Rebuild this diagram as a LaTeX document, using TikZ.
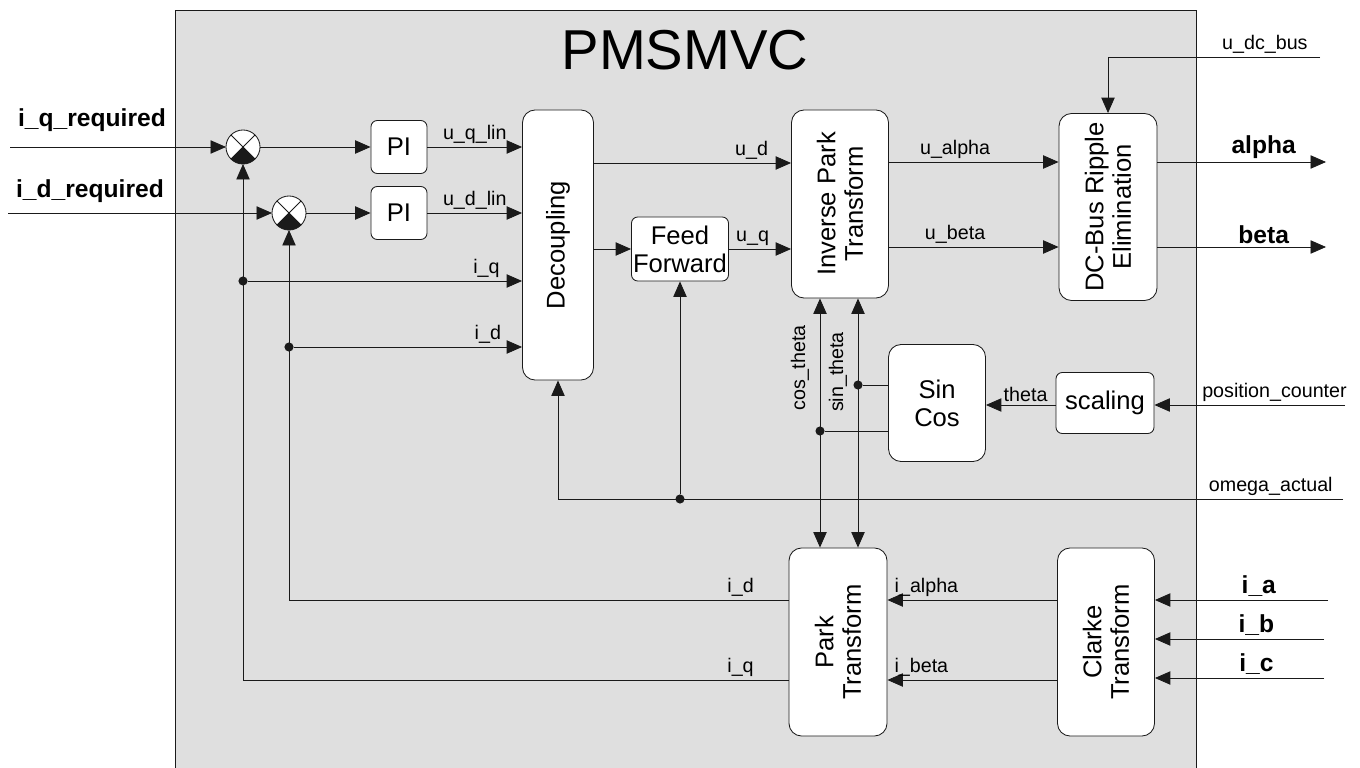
\documentclass[tikz,border=0pt]{standalone}
\usepackage{fontspec}
\setmainfont{Liberation Sans}
\usetikzlibrary{arrows.meta,positioning,calc}
\definecolor{panelgray}{HTML}{DFDFDF}
\definecolor{wire}{HTML}{1A1A1A}

\tikzset{
  blk/.style={draw=wire, fill=white, rounded corners=9pt, line width=0.6pt,
    inner sep=0pt, align=center, font=\fontsize{18.2}{20}\selectfont},
  smallblk/.style={rounded corners=4.5pt},
  vtext/.style={rotate=90, align=center, inner sep=0pt,
    font=\fontsize{18.2}{19.5}\selectfont},
  wireline/.style={draw=wire, line width=0.6pt},
  sig/.style={wireline, -{Triangle[length=11pt,width=9.5pt]}},
  dual/.style={wireline, {Triangle[length=11pt,width=9.5pt]}-{Triangle[length=11pt,width=9.5pt]}},
  lbl/.style={font=\fontsize{14}{16}\selectfont, inner sep=2pt},
  iolbl/.style={font=\fontsize{17.5}{20}\selectfont\bfseries, inner sep=2pt},
  sumnode/.style={circle, draw=wire, fill=white, line width=0.6pt,
    minimum size=0.85cm, inner sep=0pt, outer sep=0pt},
  dot/.style={circle, fill=wire, inner sep=0pt, minimum size=6.5pt},
}

\begin{document}
\begin{tikzpicture}[x=0.025cm,y=-0.025cm]
  \useasboundingbox (0,0) rectangle (1360,768);
  % Panel del bloque
  \fill[panelgray] (175,10) rectangle (1196,775);
  \draw[wireline] (175,775) |- (1196,10) -- (1196,775);
  \node[font=\fontsize{40}{44}\selectfont] (title) at (685,50) {PMSMVC};

  % Bloques
  \node[sumnode] (sumq) at (243,147) {};
  \node[sumnode] (sumd) at (289,213) {};
  \foreach \s in {sumq,sumd}{
    \fill[wire] (\s.center) -- (\s.south west) arc (225:315:0.425cm) -- cycle;
    \draw[wireline] (\s.north west) -- (\s.south east) (\s.north east) -- (\s.south west);
  }
  \node[blk, smallblk, minimum width=1.4cm, minimum height=1.325cm] (piq) at (399,147) {PI};
  \node[blk, smallblk, minimum width=1.4cm, minimum height=1.325cm] (pid) at (399,213) {PI};
  \node[blk, minimum width=1.775cm, minimum height=6.75cm,
    label={[vtext]center:Decoupling}] (dec) at (558,245) {};
  \node[blk, smallblk, minimum width=2.425cm, minimum height=1.6cm] (ff) at (680,249) {Feed\\Forward};
  \node[blk, minimum width=2.425cm, minimum height=4.7cm,
    label={[vtext]center:Inverse Park\\Transform}] (ipark) at (840,204) {};
  \node[blk, minimum width=2.45cm, minimum height=4.675cm,
    label={[vtext]center:DC-Bus Ripple\\Elimination}] (dcbus) at (1108,207) {};
  \node[blk, minimum width=2.425cm, minimum height=2.925cm] (sincos) at (937,403) {Sin\\Cos};
  \node[blk, smallblk, minimum width=2.45cm, minimum height=1.525cm] (scal) at (1105,403) {scaling};
  \node[blk, minimum width=2.45cm, minimum height=4.7cm,
    label={[vtext]center:Park\\Transform}] (park) at (838,642) {};
  \node[blk, minimum width=2.425cm, minimum height=4.7cm,
    label={[vtext]center:Clarke\\Transform}] (clarke) at (1106,642) {};

  % Entradas y salidas externas
  \coordinate (iqreq) at (10,147);
  \coordinate (idreq) at (8,213);
  \coordinate (udc) at (1320,57);
  \coordinate (alphaout) at (1326,162);
  \coordinate (betaout) at (1326,247);
  \coordinate (poscnt) at (1345,405);
  \coordinate (omega) at (1343,499);
  \coordinate (ia) at (1328,600);
  \coordinate (ib) at (1324,639);
  \coordinate (ic) at (1324,678);
  \node[iolbl, anchor=west] (iqreqlbl) at (15,120) {i\_q\_required};
  \node[iolbl, anchor=west] (idreqlbl) at (13,191) {i\_d\_required};

  % Lazo de corriente
  \draw[sig] (iqreq) -- (sumq.west);
  \draw[sig] (idreq) -- (sumd.west);
  \draw[sig] (sumq.east) -- (piq.west);
  \draw[sig] (sumd.east) -- (pid.west);
  \draw[sig] (piq.east) -- (piq.east -| dec.west) node[lbl, above, midway] {u\_q\_lin};
  \draw[sig] (pid.east) -- (pid.east -| dec.west) node[lbl, above, midway] {u\_d\_lin};
  \node[dot] (dotq) at (243,281) {};
  \node[dot] (dotd) at (289,347) {};
  \draw[sig] (dotq) -- (dotq -| dec.west) node[lbl, above, pos=0.87] {i\_q};
  \draw[sig] (dotd) -- (dotd -| dec.west) node[lbl, above, pos=0.85] {i\_d};
  \draw[sig] (dec.east |- 0,163) -- (ipark.west |- 0,163) node[lbl, above, pos=0.8] {u\_d};
  \draw[sig] (dec.east |- ff) -- (ff.west);
  \draw[sig] (ff.east) -- (ff.east -| ipark.west) node[lbl, above, pos=0.38] {u\_q};

  % Eliminacion del rizado
  \draw[sig] (ipark.east |- 0,162) -- (dcbus.west |- 0,162) node[lbl, above, pos=0.39] {u\_alpha};
  \draw[sig] (ipark.east |- 0,247) -- (dcbus.west |- 0,247) node[lbl, above, pos=0.39] {u\_beta};
  \draw[sig] (udc) -| (dcbus.north) node[lbl, above, pos=0.13] {u\_dc\_bus};
  \draw[sig] (dcbus.east |- alphaout) -- (alphaout) node[iolbl, above, pos=0.63] {alpha};
  \draw[sig] (dcbus.east |- betaout) -- (betaout) node[iolbl, above, pos=0.63] {beta};

  % Angulo y velocidad
  \draw[sig] (poscnt) -- (scal.east |- poscnt) node[lbl, above, pos=0.37] {position\_counter};
  \draw[sig] (scal.west |- poscnt) -- (sincos.east |- poscnt) node[lbl, above, pos=0.43] {theta};
  \node[dot] (dotsin) at (858,385) {};
  \node[dot] (dotcos) at (820,431) {};
  \draw[wireline] (dotsin) -- (dotsin -| sincos.west);
  \draw[wireline] (dotcos) -- (dotcos -| sincos.west);
  \draw[dual] (ipark.south -| dotcos) -- (park.north -| dotcos);
  \draw[dual] (ipark.south -| dotsin) -- (park.north -| dotsin);
  \node[lbl, rotate=90] (costh) at (800,368) {cos\_theta};
  \node[lbl, rotate=90] (sinth) at (838,372) {sin\_theta};
  \draw[sig] (omega) -| (dec.south) node[lbl, above, pos=0.046] {omega\_actual};
  \node[dot] (dotw) at (ff.south |- omega) {};
  \draw[sig] (dotw) -- (ff.south);

  % Realimentacion de corrientes
  \draw[sig] (park.west |- 0,600) -| (sumd.south) node[lbl, above, pos=0.048] {i\_d};
  \draw[sig] (park.west |- 0,680) -| (sumq.south) node[lbl, above, pos=0.044] {i\_q};
  \draw[sig] (clarke.west |- 0,600) -- (park.east |- 0,600) node[lbl, above, pos=0.77] {i\_alpha};
  \draw[sig] (clarke.west |- 0,680) -- (park.east |- 0,680) node[lbl, above, pos=0.8] {i\_beta};
  \draw[sig] (ia) -- (clarke.east |- ia) node[iolbl, above, pos=0.4] {i\_a};
  \draw[sig] (ib) -- (clarke.east |- ib) node[iolbl, above, pos=0.4] {i\_b};
  \draw[sig] (ic) -- (clarke.east |- ic) node[iolbl, above, pos=0.4] {i\_c};
\end{tikzpicture}
\end{document}
